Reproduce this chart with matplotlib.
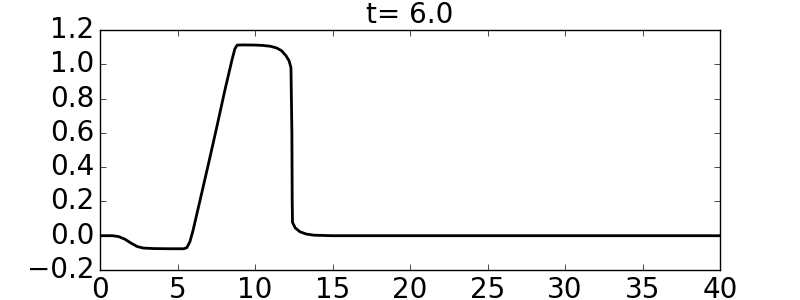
import matplotlib
matplotlib.use("Agg")
import matplotlib.pyplot as plt

# values
x = [0, 0.8, 1.2, 1.6, 2.0, 2.4, 2.8, 3.5, 4.5, 5.4, 5.6, 5.8, 6.0, 6.45,
     7.0, 7.5, 8.06, 8.5, 8.7, 8.85, 9.2, 10.0, 10.5, 11.0, 11.4, 11.7,
     12.0, 12.2, 12.32, 12.38, 12.40, 12.42, 12.6, 12.9, 13.3, 13.8, 15, 40]
u = [0.0, 0.0, -0.005, -0.02, -0.043, -0.063, -0.072, -0.075, -0.076, -0.076,
     -0.07, -0.035, 0.03, 0.205, 0.42, 0.62, 0.85, 1.02, 1.09, 1.112, 1.113,
     1.112, 1.11, 1.105, 1.095, 1.08, 1.05, 1.02, 0.98, 0.6, 0.2, 0.077,
     0.045, 0.023, 0.01, 0.003, 0.0, 0.0]
t = 6.0

plt.style.use("classic")
fig = plt.figure(figsize=(8, 3), dpi=100, facecolor="white")
ax = fig.add_subplot(111)
fig.subplots_adjust(left=0.125, right=0.9, bottom=0.1, top=0.9)

ax.plot(x, u, color="black", linewidth=2)
ax.set_xlim(0, 40)
ax.set_ylim(-0.2, 1.2)
ax.set_xticks(range(0, 41, 5))
ax.set_yticks([-0.2, 0.0, 0.2, 0.4, 0.6, 0.8, 1.0, 1.2])
ax.set_yticklabels(["\u22120.2", "0.0", "0.2", "0.4", "0.6", "0.8", "1.0", "1.2"])
ax.tick_params(labelsize=20, direction="in", length=4, top=True, right=True)
ax.set_title("t= %.1f" % t, fontsize=20)

plt.savefig("out.png", dpi=100)
